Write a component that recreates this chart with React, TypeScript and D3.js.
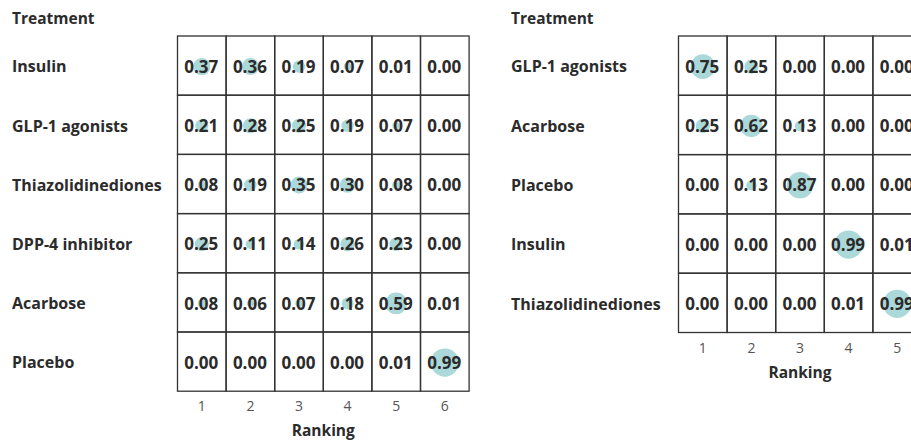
import React, { useEffect, useRef } from 'react'
import * as d3 from 'd3'

// data: ranking probabilities per treatment
const leftTreatments = ['Insulin', 'GLP-1 agonists', 'Thiazolidinediones', 'DPP-4 inhibitor', 'Acarbose', 'Placebo']
const leftRanks = ['1', '2', '3', '4', '5', '6']
const leftValues = [
	[0.37, 0.36, 0.19, 0.07, 0.01, 0.0],
	[0.21, 0.28, 0.25, 0.19, 0.07, 0.0],
	[0.08, 0.19, 0.35, 0.3, 0.08, 0.0],
	[0.25, 0.11, 0.14, 0.26, 0.23, 0.0],
	[0.08, 0.06, 0.07, 0.18, 0.59, 0.01],
	[0.0, 0.0, 0.0, 0.0, 0.01, 0.99],
]

const rightTreatments = ['GLP-1 agonists', 'Acarbose', 'Placebo', 'Insulin', 'Thiazolidinediones']
const rightRanks = ['1', '2', '3', '4', '5']
const rightValues = [
	[0.75, 0.25, 0.0, 0.0, 0.0],
	[0.25, 0.62, 0.13, 0.0, 0.0],
	[0.0, 0.13, 0.87, 0.0, 0.0],
	[0.0, 0.0, 0.0, 0.99, 0.01],
	[0.0, 0.0, 0.0, 0.01, 0.99],
]

const FONT = '"Open Sans", "Noto Sans", sans-serif'
const TEXT = '#2b2b2b'
const BUBBLE = '#abd8d8'

function drawPanel(svg, opts) {
	const { treatments, ranks, values, labelX, gridX, colW, top, rowH } = opts
	const g = svg.append('g')

	const x = d3
		.scaleBand()
		.domain(ranks)
		.range([gridX, gridX + colW * ranks.length])
	const y = d3
		.scaleBand()
		.domain(treatments)
		.range([top, top + rowH * treatments.length])
	const r = d3.scaleSqrt().domain([0, 1]).range([0, 14.2])
	const bottom = top + rowH * treatments.length

	// titel boven de rijen
	g.append('text')
		.attr('x', labelX)
		.attr('y', 24)
		.attr('font-size', 15.5)
		.attr('font-weight', 700)
		.attr('fill', TEXT)
		.text('Treatment')

	g.selectAll('text.row')
		.data(treatments)
		.join('text')
		.attr('class', 'row')
		.attr('x', labelX)
		.attr('y', d => y(d) + y.bandwidth() / 2 + 1)
		.attr('dy', '0.36em')
		.attr('font-size', 16)
		.attr('font-weight', 700)
		.attr('fill', TEXT)
		.text(d => d)

	const cells = values.flatMap((row, i) =>
		row.map((v, j) => ({ t: treatments[i], k: ranks[j], v }))
	)

	g.selectAll('circle')
		.data(cells)
		.join('circle')
		.attr('cx', d => x(d.k) + x.bandwidth() / 2)
		.attr('cy', d => y(d.t) + y.bandwidth() / 2 + 1)
		.attr('r', d => r(d.v))
		.attr('fill', BUBBLE)

	g.selectAll('rect')
		.data(cells)
		.join('rect')
		.attr('x', d => x(d.k))
		.attr('y', d => y(d.t))
		.attr('width', x.bandwidth())
		.attr('height', y.bandwidth())
		.attr('fill', 'none')
		.attr('stroke', '#333')
		.attr('stroke-width', 1.3)

	g.selectAll('text.val')
		.data(cells)
		.join('text')
		.attr('class', 'val')
		.attr('x', d => x(d.k) + x.bandwidth() / 2 - 0.5)
		.attr('y', d => y(d.t) + y.bandwidth() / 2 + 1)
		.attr('dy', '0.36em')
		.attr('text-anchor', 'middle')
		.attr('font-size', 17)
		.attr('font-weight', 700)
		.attr('fill', TEXT)
		.text(d => d.v.toFixed(2))

	// x as onderaan
	const axis = d3.axisBottom(x).tickSize(0).tickPadding(0)
	const ga = g.append('g').attr('transform', `translate(0,${bottom})`).call(axis)
	ga.select('.domain').remove()
	ga.selectAll('text')
		.attr('y', 20)
		.attr('dy', 0)
		.attr('font-family', FONT)
		.attr('font-size', 14)
		.attr('fill', '#555')

	g.append('text')
		.attr('x', gridX + (colW * ranks.length) / 2)
		.attr('y', bottom + 45)
		.attr('text-anchor', 'middle')
		.attr('font-size', 15.5)
		.attr('font-weight', 700)
		.attr('fill', TEXT)
		.text('Ranking')
}

export default function App() {
	const ref = useRef(null)

	useEffect(() => {
		const svg = d3.select(ref.current)
		svg.selectAll('*').remove()
		drawPanel(svg, {
			treatments: leftTreatments,
			ranks: leftRanks,
			values: leftValues,
			labelX: 12,
			gridX: 177.5,
			colW: 48.6,
			top: 36,
			rowH: 59.2,
		})
		drawPanel(svg, {
			treatments: rightTreatments,
			ranks: rightRanks,
			values: rightValues,
			labelX: 511,
			gridX: 678.5,
			colW: 48.6,
			top: 36,
			rowH: 59.3,
		})
	}, [])

	return (
		<svg
			ref={ref}
			width={911}
			height={440}
			style={{ position: 'absolute', left: 0, top: 0, background: '#fff', fontFamily: FONT }}
		/>
	)
}
